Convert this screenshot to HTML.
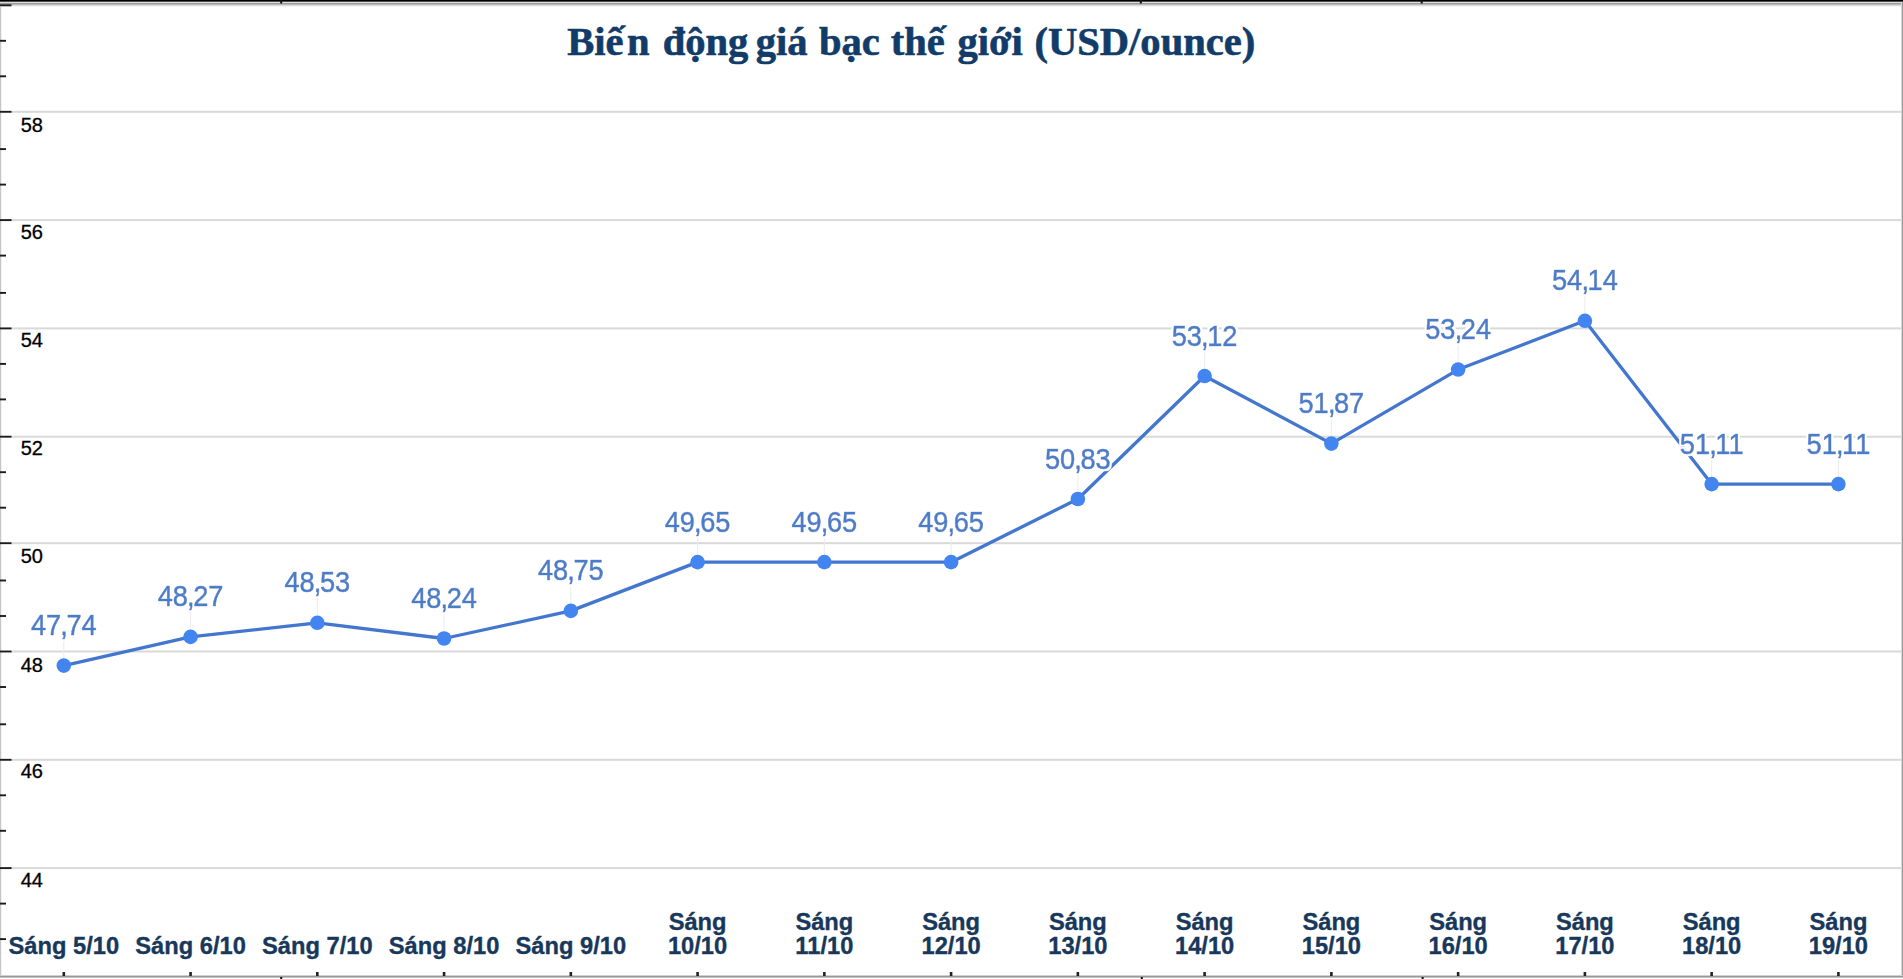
<!DOCTYPE html>
<html lang="vi"><head><meta charset="utf-8"><title>Biến động giá bạc thế giới</title>
<style>html,body{margin:0;padding:0;background:#fff;overflow:hidden}svg{display:block}.t{font-family:"Liberation Serif","DejaVu Serif",serif;font-weight:bold;fill:#113c6a;stroke:#113c6a;stroke-width:.6px}.y{font-family:"Liberation Sans","DejaVu Sans",sans-serif;fill:#000;font-size:20px;stroke:#000;stroke-width:.3px}.c{font-family:"Liberation Sans","DejaVu Sans",sans-serif;font-weight:bold;fill:#18385b;font-size:23.7px;text-anchor:middle;stroke:#18385b;stroke-width:.35px}.d{font-family:"Liberation Sans","DejaVu Sans",sans-serif;fill:#487dc9;font-size:28.3px;text-anchor:middle;stroke:#487dc9;stroke-width:.6px;filter:url(#halo)}</style></head><body>
<svg width="1903" height="979" viewBox="0 0 1903 979">
<defs><filter id="halo" x="-10%" y="-30%" width="120%" height="160%"><feMorphology in="SourceAlpha" operator="dilate" radius="1.9" result="d"/><feFlood flood-color="#fff"/><feComposite in2="d" operator="in" result="h"/><feMerge><feMergeNode in="h"/><feMergeNode in="SourceGraphic"/></feMerge></filter></defs>
<rect width="1903" height="979" fill="#fff"/>
<rect x="11" y="867.10" width="1890" height="2" fill="#d9d9d9"/>
<rect x="11" y="758.80" width="1890" height="2" fill="#d9d9d9"/>
<rect x="11" y="650.50" width="1890" height="2" fill="#d9d9d9"/>
<rect x="11" y="542.20" width="1890" height="2" fill="#d9d9d9"/>
<rect x="11" y="435.70" width="1890" height="2" fill="#d9d9d9"/>
<rect x="11" y="327.40" width="1890" height="2" fill="#d9d9d9"/>
<rect x="11" y="219.10" width="1890" height="2" fill="#d9d9d9"/>
<rect x="11" y="110.80" width="1890" height="2" fill="#d9d9d9"/>
<rect x="0" y="0" width="1903" height="1" fill="#000"/>
<rect x="0" y="1" width="1903" height="1" fill="#4c4c4c"/>
<rect x="0" y="2" width="1903" height="1" fill="#dedede"/>
<rect x="0" y="3" width="1903" height="1" fill="#9b9b9b"/>
<rect x="0" y="4" width="1903" height="1" fill="#b9b9b9"/>
<rect x="0" y="5" width="1903" height="1" fill="#dcdcdc"/>
<rect x="0" y="6" width="1903" height="1" fill="#f5f5f5"/>
<rect x="0" y="7" width="1" height="968" fill="#c6c6c6"/><rect x="1" y="7" width="1" height="968" fill="#f2f2f2"/>
<rect x="1902" y="2" width="1" height="976" fill="#9a9a9a"/><rect x="1901" y="3" width="1" height="975" fill="#d9d9d9"/>
<rect x="0" y="975" width="1903" height="1" fill="#d0d0d0"/>
<rect x="0" y="976" width="1903" height="1" fill="#999"/>
<rect x="0" y="977" width="1903" height="1" fill="#c4c4c4"/>
<rect x="0" y="978" width="1903" height="1" fill="#fafafa"/>
<rect x="0" y="4.35" width="11.5" height="1.9" fill="#1c1c1c"/>
<rect x="0" y="39.85" width="6" height="1.9" fill="#1c1c1c"/>
<rect x="0" y="75.35" width="6" height="1.9" fill="#1c1c1c"/>
<rect x="0" y="110.85" width="11.5" height="1.9" fill="#1c1c1c"/>
<rect x="0" y="148.15" width="6" height="1.9" fill="#1c1c1c"/>
<rect x="0" y="183.65" width="6" height="1.9" fill="#1c1c1c"/>
<rect x="0" y="219.15" width="11.5" height="1.9" fill="#1c1c1c"/>
<rect x="0" y="254.65" width="6" height="1.9" fill="#1c1c1c"/>
<rect x="0" y="291.95" width="6" height="1.9" fill="#1c1c1c"/>
<rect x="0" y="327.45" width="11.5" height="1.9" fill="#1c1c1c"/>
<rect x="0" y="362.95" width="6" height="1.9" fill="#1c1c1c"/>
<rect x="0" y="398.45" width="6" height="1.9" fill="#1c1c1c"/>
<rect x="0" y="435.75" width="11.5" height="1.9" fill="#1c1c1c"/>
<rect x="0" y="471.25" width="6" height="1.9" fill="#1c1c1c"/>
<rect x="0" y="506.75" width="6" height="1.9" fill="#1c1c1c"/>
<rect x="0" y="542.25" width="11.5" height="1.9" fill="#1c1c1c"/>
<rect x="0" y="579.55" width="6" height="1.9" fill="#1c1c1c"/>
<rect x="0" y="615.05" width="6" height="1.9" fill="#1c1c1c"/>
<rect x="0" y="650.55" width="11.5" height="1.9" fill="#1c1c1c"/>
<rect x="0" y="686.05" width="6" height="1.9" fill="#1c1c1c"/>
<rect x="0" y="723.35" width="6" height="1.9" fill="#1c1c1c"/>
<rect x="0" y="758.85" width="11.5" height="1.9" fill="#1c1c1c"/>
<rect x="0" y="794.35" width="6" height="1.9" fill="#1c1c1c"/>
<rect x="0" y="829.85" width="6" height="1.9" fill="#1c1c1c"/>
<rect x="0" y="867.15" width="11.5" height="1.9" fill="#1c1c1c"/>
<rect x="0" y="902.65" width="6" height="1.9" fill="#1c1c1c"/>
<rect x="0" y="938.15" width="6" height="1.9" fill="#1c1c1c"/>
<rect x="62.50" y="972" width="2.6" height="4" fill="#222"/>
<rect x="189.26" y="972" width="2.6" height="4" fill="#222"/>
<rect x="316.01" y="972" width="2.6" height="4" fill="#222"/>
<rect x="442.77" y="972" width="2.6" height="4" fill="#222"/>
<rect x="569.53" y="972" width="2.6" height="4" fill="#222"/>
<rect x="696.29" y="972" width="2.6" height="4" fill="#222"/>
<rect x="823.04" y="972" width="2.6" height="4" fill="#222"/>
<rect x="949.80" y="972" width="2.6" height="4" fill="#222"/>
<rect x="1076.56" y="972" width="2.6" height="4" fill="#222"/>
<rect x="1203.31" y="972" width="2.6" height="4" fill="#222"/>
<rect x="1330.07" y="972" width="2.6" height="4" fill="#222"/>
<rect x="1456.83" y="972" width="2.6" height="4" fill="#222"/>
<rect x="1583.59" y="972" width="2.6" height="4" fill="#222"/>
<rect x="1710.34" y="972" width="2.6" height="4" fill="#222"/>
<rect x="1837.10" y="972" width="2.6" height="4" fill="#222"/>
<rect x="280.2" y="977" width="2" height="2" fill="#111"/>
<rect x="280.2" y="0" width="2" height="3.5" fill="#111"/>
<rect x="1140.8" y="977" width="2" height="2" fill="#111"/>
<rect x="1139.8" y="0" width="2" height="3.5" fill="#111"/>
<rect x="1421.6" y="977" width="2" height="2" fill="#111"/>
<rect x="1420.7" y="0" width="2" height="3.5" fill="#111"/>
<text class="y" x="20.7" y="886.60">44</text>
<text class="y" x="20.7" y="778.40">46</text>
<text class="y" x="20.7" y="671.70">48</text>
<text class="y" x="20.7" y="563.40">50</text>
<text class="y" x="20.7" y="455.30">52</text>
<text class="y" x="20.7" y="347.00">54</text>
<text class="y" x="20.7" y="239.10">56</text>
<text class="y" x="20.7" y="131.80">58</text>
<text class="t" y="54.7" font-size="40.6" xml:space="preserve"><tspan x="567.2">Biế</tspan><tspan x="627.0">n </tspan><tspan x="662.7">động </tspan><tspan x="755.7">giá </tspan><tspan x="819.0">bạc </tspan><tspan x="890.7">thế </tspan><tspan x="957.4">giới </tspan><tspan x="1034.4">(USD/ounce)</tspan></text>
<rect x="63.30" y="639.58" width="1" height="22" fill="#ececec"/>
<rect x="190.06" y="610.88" width="1" height="22" fill="#ececec"/>
<rect x="316.81" y="596.80" width="1" height="22" fill="#ececec"/>
<rect x="443.57" y="612.50" width="1" height="22" fill="#ececec"/>
<rect x="570.33" y="584.89" width="1" height="22" fill="#ececec"/>
<rect x="697.09" y="536.15" width="1" height="22" fill="#ececec"/>
<rect x="823.84" y="536.15" width="1" height="22" fill="#ececec"/>
<rect x="950.60" y="536.15" width="1" height="22" fill="#ececec"/>
<rect x="1077.36" y="473.00" width="1" height="22" fill="#ececec"/>
<rect x="1204.11" y="350.05" width="1" height="22" fill="#ececec"/>
<rect x="1330.87" y="417.62" width="1" height="22" fill="#ececec"/>
<rect x="1457.63" y="343.55" width="1" height="22" fill="#ececec"/>
<rect x="1584.39" y="294.82" width="1" height="22" fill="#ececec"/>
<rect x="1711.14" y="458.09" width="1" height="22" fill="#ececec"/>
<rect x="1837.90" y="458.09" width="1" height="22" fill="#ececec"/>
<polyline points="63.80,665.58 190.56,636.88 317.31,622.80 444.07,638.50 570.83,610.89 697.59,562.15 824.34,562.15 951.10,562.15 1077.86,499.00 1204.61,376.05 1331.37,443.62 1458.13,369.55 1584.89,320.82 1711.64,484.09 1838.40,484.09" fill="none" stroke="#4377cf" stroke-width="3.3" stroke-linejoin="round"/>
<circle cx="63.80" cy="665.58" r="7.3" fill="#4285f0"/>
<circle cx="190.56" cy="636.88" r="7.3" fill="#4285f0"/>
<circle cx="317.31" cy="622.80" r="7.3" fill="#4285f0"/>
<circle cx="444.07" cy="638.50" r="7.3" fill="#4285f0"/>
<circle cx="570.83" cy="610.89" r="7.3" fill="#4285f0"/>
<circle cx="697.59" cy="562.15" r="7.3" fill="#4285f0"/>
<circle cx="824.34" cy="562.15" r="7.3" fill="#4285f0"/>
<circle cx="951.10" cy="562.15" r="7.3" fill="#4285f0"/>
<circle cx="1077.86" cy="499.00" r="7.3" fill="#4285f0"/>
<circle cx="1204.61" cy="376.05" r="7.3" fill="#4285f0"/>
<circle cx="1331.37" cy="443.62" r="7.3" fill="#4285f0"/>
<circle cx="1458.13" cy="369.55" r="7.3" fill="#4285f0"/>
<circle cx="1584.89" cy="320.82" r="7.3" fill="#4285f0"/>
<circle cx="1711.64" cy="484.09" r="7.3" fill="#4285f0"/>
<circle cx="1838.40" cy="484.09" r="7.3" fill="#4285f0"/>
<text class="d" transform="translate(63.80,635.08) scale(0.962,1.035)">47<tspan dx="-0.9">,</tspan><tspan dx="-1.5">74</tspan></text>
<text class="d" transform="translate(190.56,606.38) scale(0.962,1.035)">48<tspan dx="-0.9">,</tspan><tspan dx="-1.5">27</tspan></text>
<text class="d" transform="translate(317.31,592.30) scale(0.962,1.035)">48<tspan dx="-0.9">,</tspan><tspan dx="-1.5">53</tspan></text>
<text class="d" transform="translate(444.07,608.00) scale(0.962,1.035)">48<tspan dx="-0.9">,</tspan><tspan dx="-1.5">24</tspan></text>
<text class="d" transform="translate(570.83,580.39) scale(0.962,1.035)">48<tspan dx="-0.9">,</tspan><tspan dx="-1.5">75</tspan></text>
<text class="d" transform="translate(697.59,531.65) scale(0.962,1.035)">49<tspan dx="-0.9">,</tspan><tspan dx="-1.5">65</tspan></text>
<text class="d" transform="translate(824.34,531.65) scale(0.962,1.035)">49<tspan dx="-0.9">,</tspan><tspan dx="-1.5">65</tspan></text>
<text class="d" transform="translate(951.10,531.65) scale(0.962,1.035)">49<tspan dx="-0.9">,</tspan><tspan dx="-1.5">65</tspan></text>
<text class="d" transform="translate(1077.86,468.50) scale(0.962,1.035)">50<tspan dx="-0.9">,</tspan><tspan dx="-1.5">83</tspan></text>
<text class="d" transform="translate(1204.61,345.55) scale(0.962,1.035)">53<tspan dx="-0.9">,</tspan><tspan dx="-1.5">12</tspan></text>
<text class="d" transform="translate(1331.37,413.12) scale(0.962,1.035)">51<tspan dx="-0.9">,</tspan><tspan dx="-1.5">87</tspan></text>
<text class="d" transform="translate(1458.13,339.05) scale(0.962,1.035)">53<tspan dx="-0.9">,</tspan><tspan dx="-1.5">24</tspan></text>
<text class="d" transform="translate(1584.89,290.32) scale(0.962,1.035)">54<tspan dx="-0.9">,</tspan><tspan dx="-1.5">14</tspan></text>
<text class="d" transform="translate(1711.64,453.59) scale(0.962,1.035)">51<tspan dx="-0.9">,</tspan><tspan dx="-1.5">11</tspan></text>
<text class="d" transform="translate(1838.40,453.59) scale(0.962,1.035)">51<tspan dx="-0.9">,</tspan><tspan dx="-1.5">11</tspan></text>
<text class="c" x="63.80" y="953.8">Sáng 5/10</text>
<text class="c" x="190.56" y="953.8">Sáng 6/10</text>
<text class="c" x="317.31" y="953.8">Sáng 7/10</text>
<text class="c" x="444.07" y="953.8">Sáng 8/10</text>
<text class="c" x="570.83" y="953.8">Sáng 9/10</text>
<text class="c" x="697.59" y="930">Sáng</text>
<text class="c" x="697.59" y="953.8">10/10</text>
<text class="c" x="824.34" y="930">Sáng</text>
<text class="c" x="824.34" y="953.8">11/10</text>
<text class="c" x="951.10" y="930">Sáng</text>
<text class="c" x="951.10" y="953.8">12/10</text>
<text class="c" x="1077.86" y="930">Sáng</text>
<text class="c" x="1077.86" y="953.8">13/10</text>
<text class="c" x="1204.61" y="930">Sáng</text>
<text class="c" x="1204.61" y="953.8">14/10</text>
<text class="c" x="1331.37" y="930">Sáng</text>
<text class="c" x="1331.37" y="953.8">15/10</text>
<text class="c" x="1458.13" y="930">Sáng</text>
<text class="c" x="1458.13" y="953.8">16/10</text>
<text class="c" x="1584.89" y="930">Sáng</text>
<text class="c" x="1584.89" y="953.8">17/10</text>
<text class="c" x="1711.64" y="930">Sáng</text>
<text class="c" x="1711.64" y="953.8">18/10</text>
<text class="c" x="1838.40" y="930">Sáng</text>
<text class="c" x="1838.40" y="953.8">19/10</text>
</svg></body></html>
